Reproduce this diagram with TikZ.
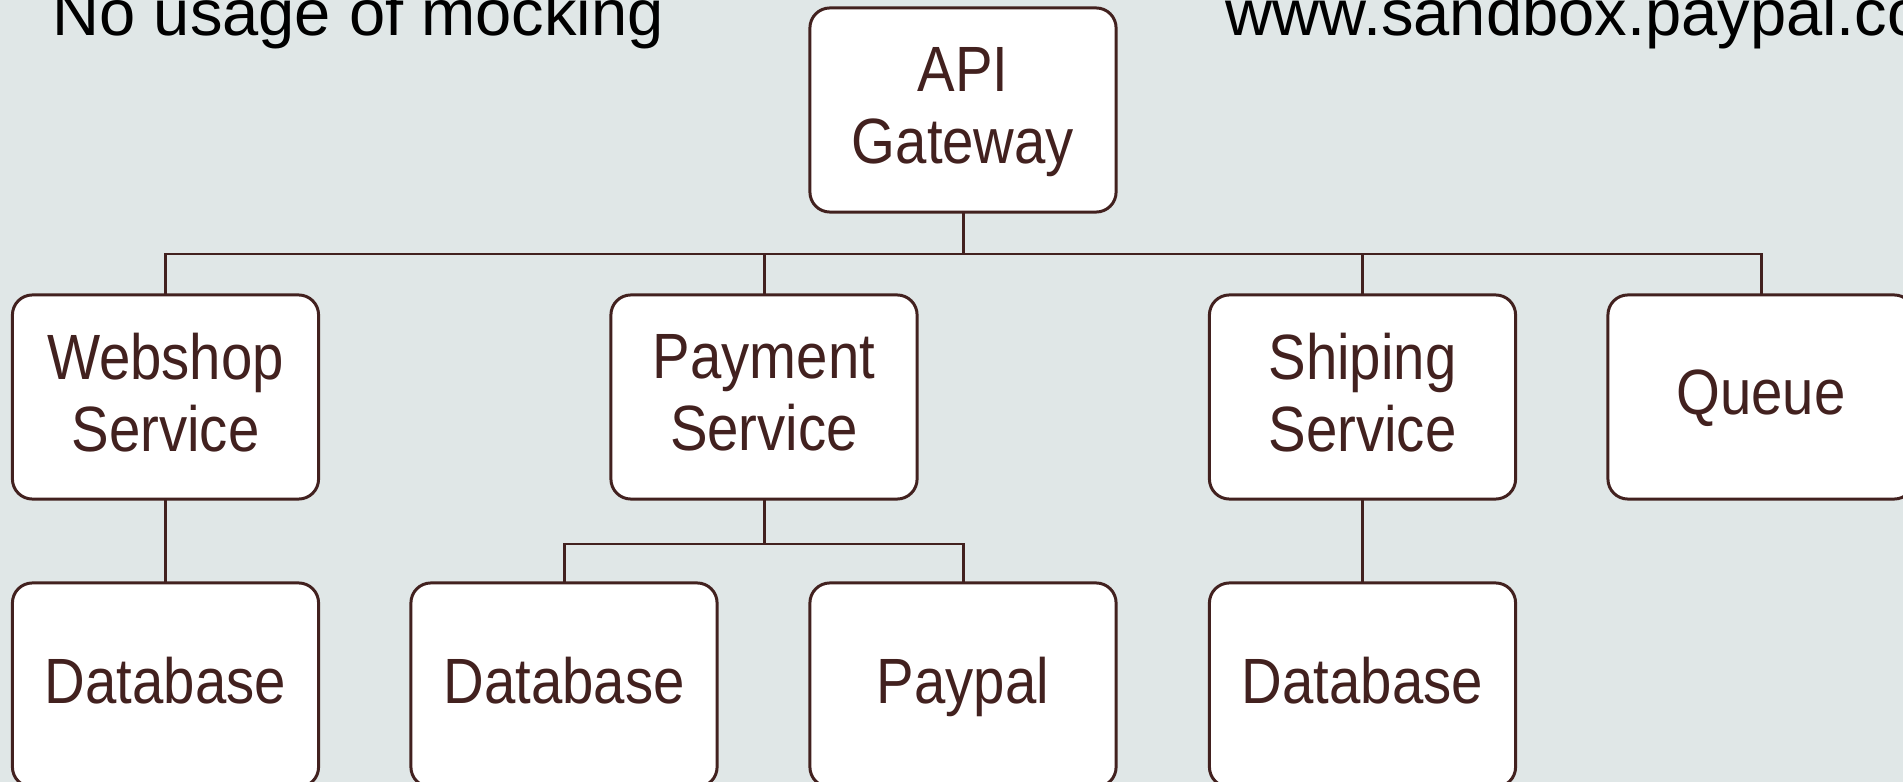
\documentclass[tikz,border=0pt]{standalone}
\usepackage{fontspec}
\setmainfont{Liberation Sans}[FakeStretch=0.88]
\newfontfamily\headfont{Liberation Sans}
\definecolor{bgcol}{RGB}{224,231,231}
\definecolor{inkcol}{RGB}{66,33,31}
\begin{document}
\begin{tikzpicture}[x=0.01cm,y=-0.01cm,
  box/.style={draw=inkcol, fill=white, line width=0.85pt, rounded corners=0.2cm,
    minimum width=3.06cm, minimum height=2.04cm, inner sep=0pt, outer sep=0pt,
    align=center, text=inkcol, text depth=2.6pt,
    font=\fontsize{18.2pt}{20.4pt}\selectfont},
  wire/.style={draw=inkcol, line width=0.85pt},
  head/.style={anchor=base west, inner sep=0pt, text=black,
    font=\headfont\fontsize{18.5pt}{22pt}\selectfont}]
  \useasboundingbox (0,0) rectangle (1903,782);
  \clip (0,0) rectangle (1903,782);
  \fill[bgcol] (0,0) rectangle (1903,782);

  % headings along the top edge
  \node[head] (note) at (52,36) {No usage of mocking};
  \node[head] (url) at (1225,36) {www.sandbox.paypal.com};

  % services
  \node[box] (api) at (963,110) {API\\Gateway};
  \node[box] (web) at (165.5,397) {Webshop\\Service};
  \node[box] (pay) at (764,397) {Payment\\Service};
  \node[box] (ship) at (1362.5,397) {Shiping\\Service};
  \node[box] (queue) at (1761,397) {Queue};

  % backing stores
  \node[box] (dbweb) at (165.5,685) {Database};
  \node[box] (dbpay) at (564,685) {Database};
  \node[box] (paypal) at (963,685) {Paypal};
  \node[box] (dbship) at (1362.5,685) {Database};

  % gateway fan-out
  \coordinate (bus) at (963,254);
  \draw[wire] (api.south) -- (bus);
  \draw[wire] (web.north) |- (bus);
  \draw[wire] (pay.north) |- (bus);
  \draw[wire] (ship.north) |- (bus);
  \draw[wire] (queue.north) |- (bus);

  % service to store links
  \draw[wire] (web.south) -- (dbweb.north);
  \draw[wire] (ship.south) -- (dbship.north);
  \coordinate (paybus) at (764,544);
  \draw[wire] (pay.south) -- (paybus);
  \draw[wire] (dbpay.north) |- (paybus);
  \draw[wire] (paypal.north) |- (paybus);
\end{tikzpicture}
\end{document}
